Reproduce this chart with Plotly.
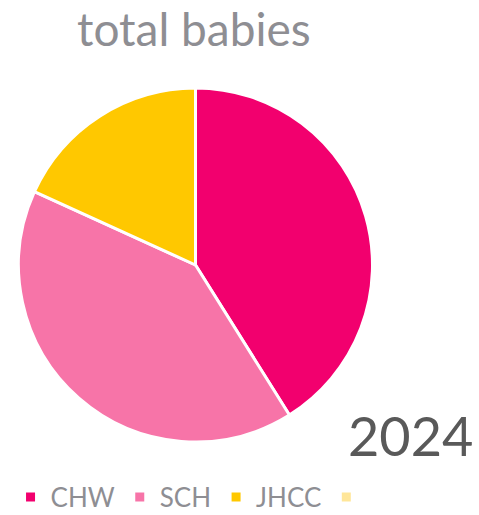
import plotly.graph_objects as go

labels = ["CHW", "SCH", "JHCC", " "]
values = [41.1, 40.7, 18.2, 0]
colors = ["#F2006E", "#F774A8", "#FFC800", "#FFE699"]

W, H = 479, 515
cx, cy, r = 195.5, 265, 177

fig = go.Figure(go.Pie(
    labels=labels,
    values=values,
    marker=dict(colors=colors, line=dict(color="white", width=3)),
    sort=False,
    direction="clockwise",
    rotation=0,
    textinfo="none",
    hoverinfo="label+value",
    domain=dict(x=[(cx - r) / W, (cx + r) / W], y=[(H - cy - r) / H, (H - cy + r) / H]),
    showlegend=True,
))

fig.update_layout(
    width=W, height=H,
    margin=dict(l=0, r=0, t=0, b=0, autoexpand=False),
    paper_bgcolor="white",
    font=dict(family="Lato, Open Sans, sans-serif"),
    legend=dict(
        orientation="h",
        x=0.022, y=(H - 497) / H, xanchor="left", yanchor="middle",
        font=dict(size=26, color="#8E8E93"),
        itemwidth=30,
        traceorder="normal",
    ),
    annotations=[
        dict(text="total babies", x=194 / W, y=1 - 28 / H, xref="paper", yref="paper",
             showarrow=False, font=dict(size=46, color="#8E8E93"), xanchor="center", yanchor="middle"),
        dict(text="2024", x=410 / W, y=1 - 435 / H, xref="paper", yref="paper",
             showarrow=False, font=dict(size=54, color="#595959"), xanchor="center", yanchor="middle"),
    ],
)

fig.write_html("out.html")
